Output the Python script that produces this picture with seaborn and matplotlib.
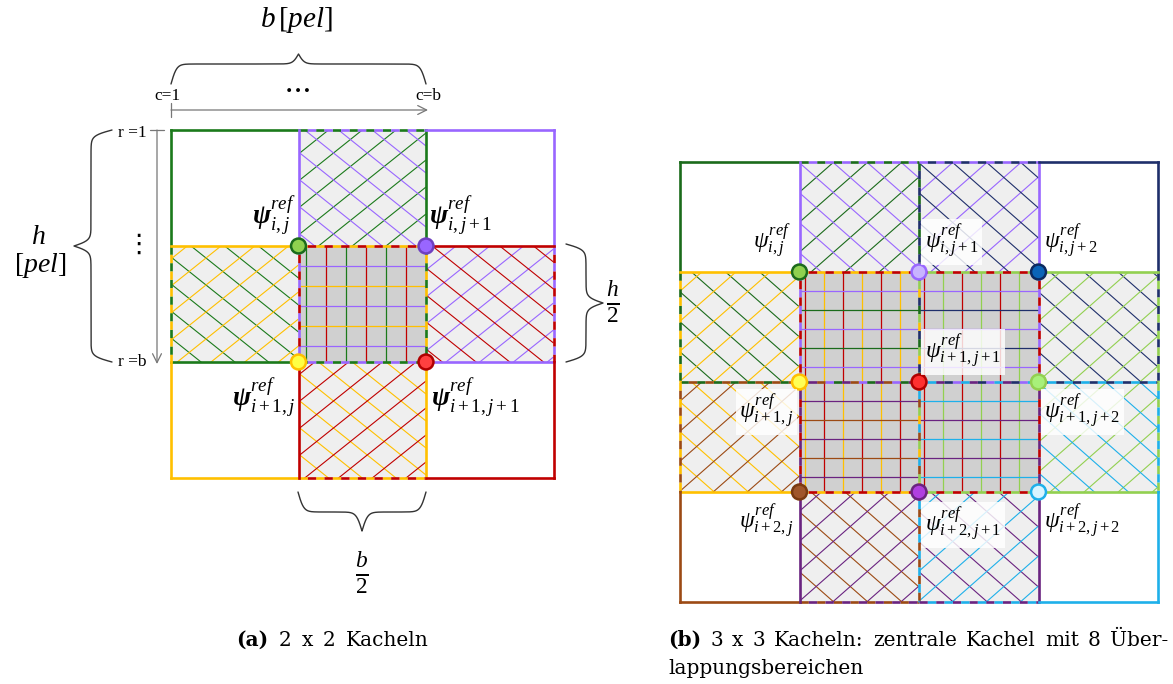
import numpy as np
import matplotlib
matplotlib.use("Agg")
import matplotlib.pyplot as plt
import seaborn as sns
import pandas as pd
from matplotlib.patches import Rectangle

sns.set_theme(style="white")
plt.rcParams['font.family'] = ['Liberation Serif', 'DejaVu Serif']
plt.rcParams['text.color'] = 'black'
plt.rcParams['mathtext.fontset'] = 'custom'
plt.rcParams['mathtext.rm'] = 'Liberation Serif'
plt.rcParams['mathtext.it'] = 'Liberation Serif:italic'
plt.rcParams['mathtext.bf'] = 'Liberation Serif:bold'
plt.rcParams['mathtext.bfit'] = 'Liberation Serif:italic:bold'
plt.rcParams['lines.scale_dashes'] = False

# ---------------- data ----------------
# (a) 2 x 2 tiles
a_rows = [0, 0, 1, 1]
a_cols = [0, 1, 0, 1]
a_colors = ['#1b7a1b', '#9966ff', '#ffc000', '#c00000']
a_mfill = ['#8fd14f', '#9966ff', '#ffff44', '#ff4040']
a_medge = ['#1b6b1b', '#6f40c0', '#ffc000', '#b00000']
a_labels = [r'$\boldsymbol{\psi}^{ref}_{i,j}$', r'$\boldsymbol{\psi}^{ref}_{i,j+1}$',
            r'$\boldsymbol{\psi}^{ref}_{i+1,j}$', r'$\boldsymbol{\psi}^{ref}_{i+1,j+1}$']
# overlap cell -> (tile, hatch kind)
a_hatch = {(0, 1): [(0, '/'), (1, '\\')],
           (1, 0): [(0, '\\'), (2, '/')],
           (1, 2): [(1, '/'), (3, '\\')],
           (2, 1): [(2, '\\'), (3, '/')],
           (1, 1): [(0, '|'), (3, '|'), (1, '-'), (2, '-')]}

# (b) 3 x 3 tiles
b_rows = [0, 0, 0, 1, 1, 1, 2, 2, 2]
b_cols = [0, 1, 2, 0, 1, 2, 0, 1, 2]
b_colors = ['#1b6b1b', '#9966ff', '#1f2f6b', '#ffc000', '#c00000', '#92d050',
            '#9c4a14', '#6a2380', '#1eb0ea']
b_mfill = ['#8fd14f', '#c8b4ff', '#0a64b8', '#ffff55', '#ff3030', '#a8f07a',
           '#a0562a', '#b040e0', '#d8f4ff']
b_medge = ['#1b6b1b', '#9966ff', '#0b2a60', '#ffc000', '#b00000', '#92d050',
           '#7a3a10', '#6a2380', '#1eb0ea']
b_labels = [r'$\psi^{ref}_{i,j}$', r'$\psi^{ref}_{i,j+1}$', r'$\psi^{ref}_{i,j+2}$',
            r'$\psi^{ref}_{i+1,j}$', r'$\psi^{ref}_{i+1,j+1}$', r'$\psi^{ref}_{i+1,j+2}$',
            r'$\psi^{ref}_{i+2,j}$', r'$\psi^{ref}_{i+2,j+1}$', r'$\psi^{ref}_{i+2,j+2}$']
b_hatch = {(0, 1): [(0, '/'), (1, '\\')],
           (0, 2): [(1, '/'), (2, '\\')],
           (1, 0): [(0, '\\'), (3, '/')],
           (2, 0): [(3, '\\'), (6, '/')],
           (1, 3): [(2, '\\'), (5, '/')],
           (2, 3): [(5, '/'), (8, '\\')],
           (3, 1): [(6, '\\'), (7, '/')],
           (3, 2): [(7, '\\'), (8, '/')],
           (1, 1): [(4, '|'), (3, '|'), (1, '-'), (0, '-')],
           (1, 2): [(4, '|'), (5, '|'), (1, '-'), (2, '-')],
           (2, 1): [(3, '|'), (4, '|'), (7, '-'), (6, '-')],
           (2, 2): [(4, '|'), (5, '|'), (8, '-'), (7, '-')]}

caption_a = ['(a)', '2', 'x', '2', 'Kacheln']
caption_b1 = ['(b)', '3', 'x', '3', 'Kacheln:', 'zentrale', 'Kachel', 'mit', '8', 'Über-']
caption_b2 = 'lappungsbereichen'

# ---------------- drawing ----------------
fig = plt.figure(figsize=(11.73, 6.84), dpi=100)
ax = fig.add_axes([0, 0, 1, 1])
ax.set_xlim(0, 1173)
ax.set_ylim(684, 0)
ax.axis('off')

LIGHT = '#efefef'
DARK = '#d0d0d0'


def clip_rect(x0, y0, x1, y1):
    r = Rectangle((x0, y0), x1 - x0, y1 - y0, fc='none', ec='none')
    ax.add_patch(r)
    return r


def hatch(x0, y0, x1, y1, color, kind, sv, slope, off):
    rect = clip_rect(x0, y0, x1, y1)
    w, h = x1 - x0, y1 - y0
    xs = np.array([x0, x1])
    for c in np.arange(-slope * w - sv + off, h + sv, sv):
        if kind == '\\':
            ys = y0 + c + slope * (xs - x0)
        else:
            ys = y1 - c - slope * (xs - x0)
        ln, = ax.plot(xs, ys, color=color, lw=0.8, solid_capstyle='butt')
        ln.set_clip_path(rect)


def panel(rows, cols, colors, mfill, medge, labels, hatchspec, X0, Y0, SX, SY,
          sv, slope, psp, poff, label_pos, fs, boxed):
    X = lambda j: X0 + j * SX
    Y = lambda i: Y0 + i * SY
    for (i, j), spec in hatchspec.items():
        four = any(k in '|-' for _, k in spec)
        ax.add_patch(Rectangle((X(j), Y(i)), SX, SY, fc=DARK if four else LIGHT,
                               ec='none', zorder=0))
    for (i, j), spec in hatchspec.items():
        x0, y0, x1, y1 = X(j), Y(i), X(j + 1), Y(i + 1)
        vt = [t for t, k in spec if k == '|']
        ht = [t for t, k in spec if k == '-']
        if vt:
            rect = clip_rect(x0, y0, x1, y1)
            for q, xx in enumerate(np.arange(x0 + poff, x1 - 2, psp)):
                ln, = ax.plot([xx, xx], [y0, y1], color=colors[vt[q % 2]], lw=0.9)
                ln.set_clip_path(rect)
            for q, yy in enumerate(np.arange(y0 + psp, y1 - 4, psp)):
                ln, = ax.plot([x0, x1], [yy, yy], color=colors[ht[q % 2]], lw=0.9)
                ln.set_clip_path(rect)
        else:
            for q, (t, k) in enumerate(spec):
                hatch(x0, y0, x1, y1, colors[t], k, sv, slope, 5 + 11 * q)
    segs = {}
    for t, (r, c) in enumerate(zip(rows, cols)):
        for dj in (0, 1):
            segs.setdefault(('h', r, c + dj), []).append(t)
            segs.setdefault(('h', r + 2, c + dj), []).append(t)
        for di in (0, 1):
            segs.setdefault(('v', c, r + di), []).append(t)
            segs.setdefault(('v', c + 2, r + di), []).append(t)
    L = 6.0
    for (o, a, b), ts in segs.items():
        if o == 'h':
            xs, ys = [X(b), X(b + 1)], [Y(a), Y(a)]
        else:
            xs, ys = [X(a), X(a)], [Y(b), Y(b + 1)]
        m = len(ts)
        for k, t in enumerate(ts):
            if m == 1:
                ax.plot(xs, ys, color=colors[t], lw=1.9, solid_capstyle='projecting', zorder=3)
            else:
                ax.plot(xs, ys, color=colors[t], lw=1.9, zorder=3,
                        linestyle=(k * L, (L, (m - 1) * L)), dash_capstyle='butt')
    df = pd.DataFrame({'x': [X(c + 1) for c in cols], 'y': [Y(r + 1) for r in rows],
                       'tile': [str(t) for t in range(len(rows))]})
    sns.scatterplot(data=df, x='x', y='y', hue='tile',
                    palette={str(t): mfill[t] for t in range(len(rows))},
                    edgecolor=medge, linewidth=1.8, s=115, legend=False, ax=ax, zorder=5)
    for t, (r, c) in enumerate(zip(rows, cols)):
        dx, dy, ha = label_pos[t]
        kw = {}
        if boxed[t]:
            kw['bbox'] = dict(fc='white', ec='none', alpha=0.82, pad=2.5)
        ax.text(X(c + 1) + dx, Y(r + 1) + dy, labels[t], ha=ha, va='center',
                fontsize=fs, zorder=6, **kw)


panel(a_rows, a_cols, a_colors, a_mfill, a_medge, a_labels, a_hatch,
      171, 130, 127.5, 116, 27, 0.8, 20, 7,
      [(-3, -30, 'right'), (3, -30, 'left'), (-3, 36, 'right'), (5, 36, 'left')],
      19.5, [False] * 4)

panel(b_rows, b_cols, b_colors, b_mfill, b_medge, b_labels, b_hatch,
      680, 162, 119.5, 110, 30, 0.88, 19, 5,
      [(-8, -30, 'right'), (6, -30, 'left'), (6, -30, 'left'),
       (-6, 30, 'right'), (6, -30, 'left'), (6, 30, 'left'),
       (-6, 30, 'right'), (6, 33, 'left'), (6, 30, 'left')],
      17, [False, True, False, True, True, True, False, True, False])


# ---------------- braces & annotations ----------------
def brace(a0, a1, base, d1, d2, orient, sign):
    L = a1 - a0
    half = L / 2
    t = np.linspace(0, half, 300)
    beta = 0.35
    y = d1 * (2 / (1 + np.exp(-beta * t)) - 1) + d2 * (1 / (1 + np.exp(-beta * (t - half))))
    y = y - y[0]
    tt = np.concatenate([t, L - t[::-1]])
    yy = np.concatenate([y, y[::-1]])
    along = a0 + tt
    perp = base + sign * yy
    if orient == 'h':
        ax.plot(along, perp, color='#333333', lw=1.0)
    else:
        ax.plot(perp, along, color='#333333', lw=1.0)


brace(171, 426, 84, 20, 20, 'h', -1)
brace(130, 362, 112, 21, 34, 'v', -1)
brace(244, 362, 566, 20, 34, 'v', 1)
brace(298, 426, 492, 20, 38, 'h', 1)

ARROW = '#777777'
ax.annotate('', xy=(428, 110), xytext=(171, 110),
            arrowprops=dict(arrowstyle='->', color=ARROW, lw=0.9,
                            mutation_scale=16, shrinkA=0, shrinkB=0))
ax.plot([171, 171], [103, 117], color=ARROW, lw=0.9)
ax.annotate('', xy=(157, 364), xytext=(157, 130),
            arrowprops=dict(arrowstyle='->', color=ARROW, lw=0.9,
                            mutation_scale=16, shrinkA=0, shrinkB=0))
ax.plot([150, 164], [130, 130], color=ARROW, lw=0.9)

ax.text(296, 20, r'$b\,[pel]$', ha='center', va='center', fontsize=21)
ax.text(167, 96, 'c=1', ha='center', va='center', fontsize=12.5)
ax.text(428, 96, 'c=b', ha='center', va='center', fontsize=12.5)
ax.text(296, 89, r'$\cdots$', ha='center', va='center', fontsize=22)
ax.text(132, 133, 'r =1', ha='center', va='center', fontsize=12.5)
ax.text(132, 362, 'r =b', ha='center', va='center', fontsize=12.5)
ax.text(138, 245, '⋮', ha='center', va='center', fontsize=19, family=['DejaVu Sans'])
ax.text(38, 237, r'$h$', ha='center', va='center', fontsize=20)
ax.text(40, 266, r'$[pel]$', ha='center', va='center', fontsize=20)
ax.text(613, 302, r'$\frac{h}{2}$', ha='center', va='center', fontsize=24)
ax.text(362, 573, r'$\frac{b}{2}$', ha='center', va='center', fontsize=24)

# captions: words placed along the line (justified, or centred with normal spacing)
renderer = fig.canvas.get_renderer()
CAP = dict(fontsize=14.5, family=['DejaVu Serif'], va='baseline', color='black')


def spread(words, x0, x1, y, min_gap=8):
    ts = []
    for k, w in enumerate(words):
        ts.append(ax.text(x0, y, w, fontweight='bold' if k == 0 else 'normal', **CAP))
    widths = [t.get_window_extent(renderer).width for t in ts]
    gap = (x1 - x0 - sum(widths)) / (len(words) - 1)
    if gap < min_gap:
        gap = min_gap
        total = sum(widths) + gap * (len(words) - 1)
        x0 = (x0 + x1) / 2 - total / 2
    x = x0
    for t, wd in zip(ts, widths):
        t.set_x(x)
        x += wd + gap


spread(caption_a, 245, 420, 646, min_gap=10)
spread(caption_b1, 668, 1168, 646)
ax.text(668, 674, caption_b2, **CAP)

fig.savefig('out.png', dpi=100)
